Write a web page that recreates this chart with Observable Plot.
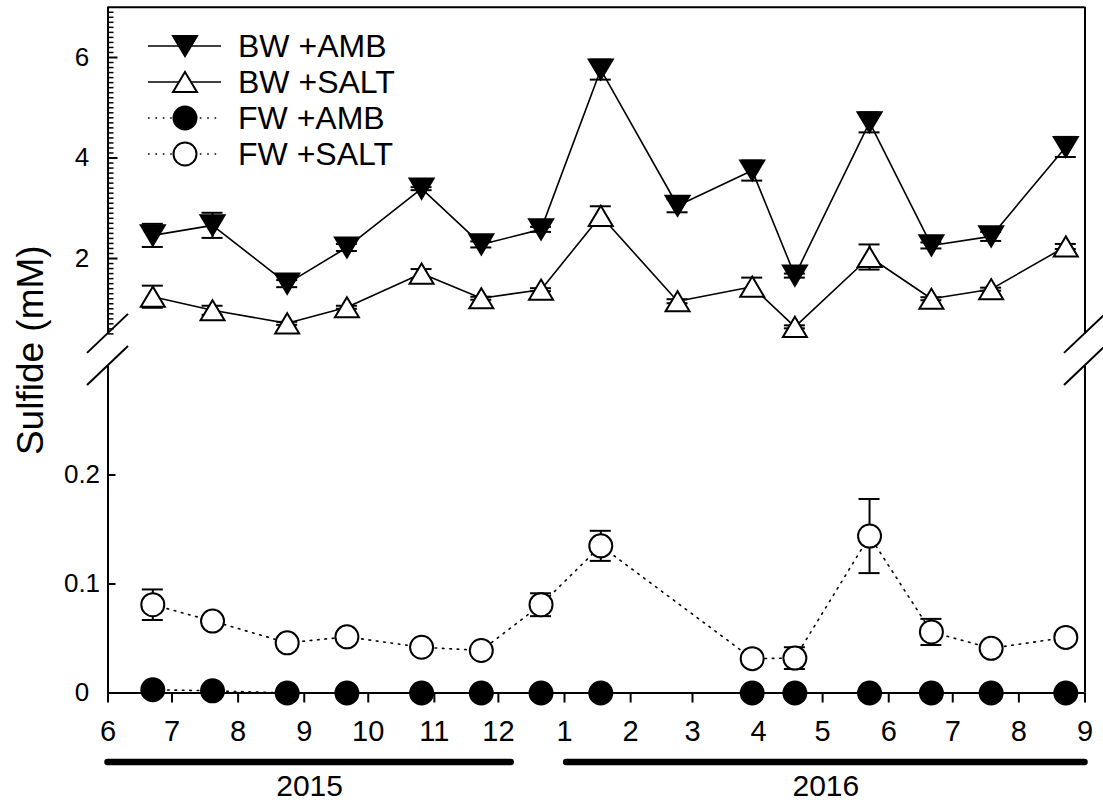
<!DOCTYPE html>
<html>
<head>
<meta charset="utf-8">
<script src="https://cdn.jsdelivr.net/npm/d3@7"></script>
<script src="https://cdn.jsdelivr.net/npm/@observablehq/plot@0.6"></script>
<style>
  body { margin: 0; background: #fff; font-family: "Liberation Sans", Arial, sans-serif; }
  #wrap { position: relative; width: 1103px; height: 805px; }
  #legend { position: absolute; left: 140px; top: 28px; }
  #legend .row { display: flex; align-items: center; height: 36px; }
  #legend .row span { font-size: 32px; line-height: 1; margin-left: 10px; color: #000; }
</style>
</head>
<body>
<div id="wrap"><div id="legend"></div></div>
<script>
// Sampling dates (one per month)
const bwDates = ["2015-06-22","2015-07-20","2015-08-24","2015-09-21","2015-10-26","2015-11-23","2015-12-21",
                 "2016-01-18","2016-02-23","2016-03-29","2016-04-18","2016-05-23","2016-06-21","2016-07-19","2016-08-23"];
const fwDates = ["2015-06-22","2015-07-20","2015-08-24","2015-09-21","2015-10-26","2015-11-23","2015-12-21",
                 "2016-01-18","2016-03-29","2016-04-18","2016-05-23","2016-06-21","2016-07-19","2016-08-23"];

// Sulfide (mM), mean and standard error
const bwAmbMean  = [2.46, 2.66, 1.50, 2.22, 3.39, 2.28, 2.58, 5.76, 3.05, 3.75, 1.66, 4.71, 2.26, 2.44, 4.22];
const bwAmbErr   = [0.23, 0.25, 0.07, 0.07, 0.03, 0.06, 0.05, 0.20, 0.13, 0.20, 0.04, 0.20, 0.06, 0.09, 0.20];
const bwSaltMean = [1.24, 0.97, 0.71, 1.03, 1.70, 1.21, 1.38, 2.85, 1.15, 1.44, 0.64, 2.03, 1.20, 1.39, 2.24];
const bwSaltErr  = [0.22, 0.09, 0.03, 0.03, 0.09, 0.03, 0.03, 0.19, 0.04, 0.18, 0.03, 0.25, 0.03, 0.03, 0.05];
const fwAmbMean  = [0.003, 0.002, 0, 0, 0, 0, 0, 0, 0, 0, 0, 0, 0, 0];
const fwAmbErr   = [0, 0, 0, 0, 0, 0, 0, 0, 0, 0, 0, 0, 0, 0];
const fwSaltMean = [0.081, 0.066, 0.046, 0.0515, 0.042, 0.039, 0.081, 0.135, 0.0315, 0.032, 0.144, 0.056, 0.041, 0.051];
const fwSaltErr  = [0.014, 0.003, 0.003, 0.003, 0.003, 0.003, 0.0105, 0.0138, 0.003, 0.010, 0.034, 0.012, 0.003, 0.003];

// Axis ticks and labels
const monthLabels = ["6","7","8","9","10","11","12","1","2","3","4","5","6","7","8","9"];
const yTickValues = [0, 0.1, 0.2, 2, 4, 6];
const yTickLabels = ["0", "0.1", "0.2", "2", "4", "6"];
const years = [
  {label: "2015", start: "2015-06-01", end: "2015-12-07"},
  {label: "2016", start: "2016-01-02", end: "2016-09-01"}
];

// Broken y axis: lower panel 0–0.3, upper panel 0.5–7
const lowerMax = 0.3, upperMin = 0.5, yTop = 7;
const xStart = new Date("2015-06-01"), xEnd = new Date("2016-09-01");

// Symbols centred on their bounding box
const triDown = {draw(ctx, size) { const r = Math.sqrt(size / Math.PI), a = r, b = r * 0.84;
  ctx.moveTo(-a, -b); ctx.lineTo(a, -b); ctx.lineTo(0, b); ctx.closePath(); }};
const triUp = {draw(ctx, size) { const r = Math.sqrt(size / Math.PI), a = r, b = r * 0.84;
  ctx.moveTo(0, -b); ctx.lineTo(a, b); ctx.lineTo(-a, b); ctx.closePath(); }};

const dotted = "1.6,5.8";
const series = [
  {name: "BW +AMB",  dates: bwDates, mean: bwAmbMean,  err: bwAmbErr,  symbol: triDown, fill: "black", dash: null, r: 12},
  {name: "BW +SALT", dates: bwDates, mean: bwSaltMean, err: bwSaltErr, symbol: triUp,   fill: "white", dash: null, r: 12},
  {name: "FW +AMB",  dates: fwDates, mean: fwAmbMean,  err: fwAmbErr,  symbol: "circle", fill: "black", dash: dotted, r: 11.5},
  {name: "FW +SALT", dates: fwDates, mean: fwSaltMean, err: fwSaltErr, symbol: "circle", fill: "white", dash: dotted, r: 11.5}
];

const at = v => () => v;
const monthTicks = d3.utcMonth.range(xStart, new Date("2016-09-02")).map((d, i) => ({date: d, label: monthLabels[i]}));
const minorTicks = d3.range(5, 70).map(i => i / 10).filter(v => Math.abs(v - Math.round(v / 2) * 2) > 1e-9);

const seriesMarks = series.flatMap(s => {
  const rows = s.dates.map((d, i) => ({date: new Date(d), v: s.mean[i], e: s.err[i]}));
  const bars = rows.filter(d => d.e > 0);
  return [
    Plot.line(rows, {x: "date", y: "v", stroke: "black", strokeWidth: 1.6, strokeDasharray: s.dash}),
    Plot.ruleX(bars, {x: "date", y1: d => d.v - d.e, y2: d => d.v + d.e, stroke: "black", strokeWidth: 2}),
    Plot.ruleY(bars, {x1: "date", x2: "date", y: d => d.v + d.e, insetLeft: -10.5, insetRight: -10.5, stroke: "black", strokeWidth: 2}),
    Plot.ruleY(bars, {x1: "date", x2: "date", y: d => d.v - d.e, insetLeft: -10.5, insetRight: -10.5, stroke: "black", strokeWidth: 2}),
    Plot.dot(rows, {x: "date", y: "v", symbol: s.symbol, r: s.r, fill: s.fill, stroke: "black", strokeWidth: 2})
  ];
});

const chart = Plot.plot({
  width: 1103,
  height: 805,
  marginLeft: 107.5,
  marginRight: 18.5,
  marginTop: 7,
  marginBottom: 112.5,
  style: {fontFamily: "'Liberation Sans', Arial, sans-serif", background: "white", color: "black"},
  x: {type: "utc", domain: [xStart, xEnd], axis: null},
  y: {type: "linear", domain: [0, lowerMax, upperMin, yTop], range: [692.5, 365.5, 333.4, 6.75], axis: null},
  marks: [
    // frame and axis lines
    Plot.ruleY([yTop], {stroke: "black", strokeWidth: 2}),
    Plot.ruleY([0], {stroke: "black", strokeWidth: 2}),
    Plot.ruleX([xStart, xEnd], {y1: at(0), y2: at(lowerMax), stroke: "black", strokeWidth: 2}),
    Plot.ruleX([xStart, xEnd], {y1: at(upperMin), y2: at(yTop), stroke: "black", strokeWidth: 2}),
    // y ticks (inward)
    Plot.ruleY(minorTicks, {y: d => d, x1: at(xStart), x2: at(xStart), insetRight: -6, stroke: "black", strokeWidth: 1.5}),
    Plot.ruleY([2, 4, 6], {y: d => d, x1: at(xStart), x2: at(xStart), insetRight: -10, stroke: "black", strokeWidth: 2}),
    Plot.ruleY([0.1, 0.2], {y: d => d, x1: at(xStart), x2: at(xStart), insetRight: -8, stroke: "black", strokeWidth: 2}),
    Plot.text(yTickValues, {y: d => d, text: (d, i) => yTickLabels[i], frameAnchor: "left", dx: -26, textAnchor: "middle", fontSize: 26}),
    // x ticks (outward) and month labels
    Plot.ruleX(monthTicks, {x: "date", y1: at(0), y2: at(0), insetBottom: -10, stroke: "black", strokeWidth: 2}),
    Plot.text(monthTicks, {x: "date", text: "label", frameAnchor: "bottom", dy: 48, fontSize: 29}),
    // year bars
    Plot.ruleY(years, {x1: d => new Date(d.start), x2: d => new Date(d.end), y: at(0), dy: 69, stroke: "black", strokeWidth: 6.5, strokeLinecap: "round"}),
    Plot.text(years, {x: d => new Date((+new Date(d.start) + +new Date(d.end)) / 2), y: at(0), dy: 93, text: "label", fontSize: 30}),
    // y axis title
    Plot.text(["Sulfide (mM)"], {text: d => d, frameAnchor: "left", dx: -77, rotate: -90, textAnchor: "middle", fontSize: 37}),
    ...seriesMarks
  ]
});

// Break marks where the y axis is interrupted
const sx = chart.scale("x"), sy = chart.scale("y");
const svgSel = d3.select(chart);
for (const xv of [xStart, xEnd]) {
  for (const yv of [upperMin, lowerMax]) {
    const px = sx.apply(xv), py = sy.apply(yv);
    svgSel.append("line")
      .attr("x1", px - 20.5).attr("y1", py + 19.5)
      .attr("x2", px + 20.5).attr("y2", py - 19.5)
      .attr("stroke", "black").attr("stroke-width", 2);
  }
}

document.getElementById("wrap").prepend(chart);

// Legend
const legend = d3.select("#legend");
for (const s of series) {
  const row = legend.append("div").attr("class", "row");
  const svg = row.append("svg").attr("width", 88).attr("height", 36);
  svg.append("line").attr("x1", 8).attr("x2", 81).attr("y1", 18).attr("y2", 18)
    .attr("stroke", "black").attr("stroke-width", 1.6).attr("stroke-dasharray", s.dash);
  const sym = typeof s.symbol === "string" ? d3.symbolCircle : s.symbol;
  svg.append("path").attr("transform", "translate(45,18)")
    .attr("d", d3.symbol(sym, Math.PI * s.r * s.r)())
    .attr("fill", s.fill).attr("stroke", "black").attr("stroke-width", 2);
  row.append("span").text(s.name);
}
</script>
</body>
</html>
